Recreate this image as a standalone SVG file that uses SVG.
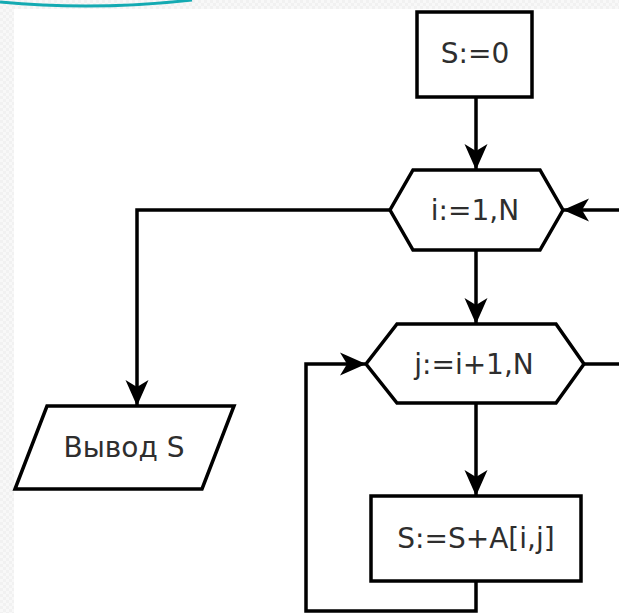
<svg xmlns="http://www.w3.org/2000/svg" width="619" height="613" viewBox="0 0 619 613">
  <style>
    .shape { fill: #ffffff; stroke: #000000; stroke-width: 3.5; stroke-linejoin: miter; }
    .conn { fill: none; stroke: #000000; stroke-width: 3.5; }
    .lbl { font-family: "DejaVu Sans", Verdana, sans-serif; font-size: 28px; fill: #2e2e2e; text-anchor: middle; }
  </style>
  <defs>
    <pattern id="chk" width="6" height="6" patternUnits="userSpaceOnUse">
      <rect width="6" height="6" fill="#f8f8f8"/>
      <rect width="3" height="3" fill="#f1f1f1"/>
      <rect x="3" y="3" width="3" height="3" fill="#f1f1f1"/>
    </pattern>
    <marker id="arr" markerUnits="userSpaceOnUse" markerWidth="26" markerHeight="24" viewBox="0 0 26 24" refX="25" refY="12" orient="auto">
      <path d="M0,0.5 L26,12 L0,23.5 L7,12 Z" fill="#000000"/>
    </marker>
  </defs>
  <rect width="619" height="613" fill="#ffffff"/>
  <rect x="0" y="0" width="619" height="9" fill="url(#chk)"/>
  <rect x="0" y="0" width="14" height="613" fill="url(#chk)"/>
  <path d="M0,2 Q95,11 192,0" fill="none" stroke="#14aab2" stroke-width="3"/>

  <g id="connectors">
    <path class="conn" d="M476,97 V169" marker-end="url(#arr)"/>
    <path class="conn" d="M390,210 H137 V405" marker-end="url(#arr)"/>
    <path class="conn" d="M619,210 H564" marker-end="url(#arr)"/>
    <path class="conn" d="M476,250 V323" marker-end="url(#arr)"/>
    <path class="conn" d="M584,364 H619"/>
    <path class="conn" d="M476,403 V495" marker-end="url(#arr)"/>
    <path class="conn" d="M476,581 V611 H306 V364 H365" marker-end="url(#arr)"/>
  </g>

  <g id="init">
    <rect class="shape" x="417" y="12" width="115" height="85"/>
    <text class="lbl" x="475" y="63">S:=0</text>
  </g>
  <g id="loop-i">
    <polygon class="shape" points="413,170 540,170 563,210 540,250 413,250 390,210"/>
    <text class="lbl" x="475" y="220">i:=1,N</text>
  </g>
  <g id="loop-j">
    <polygon class="shape" points="397,324 556,324 584,364 556,403 397,403 366,364"/>
    <text class="lbl" x="474" y="374">j:=i+1,N</text>
  </g>
  <g id="sum">
    <rect class="shape" x="371" y="496" width="210" height="85"/>
    <text class="lbl" x="476" y="548">S:=S+A[i,j]</text>
  </g>
  <g id="output">
    <polygon class="shape" points="47,406 234,406 202,489 15,489"/>
    <text class="lbl" x="124" y="457">Вывод S</text>
  </g>
</svg>
